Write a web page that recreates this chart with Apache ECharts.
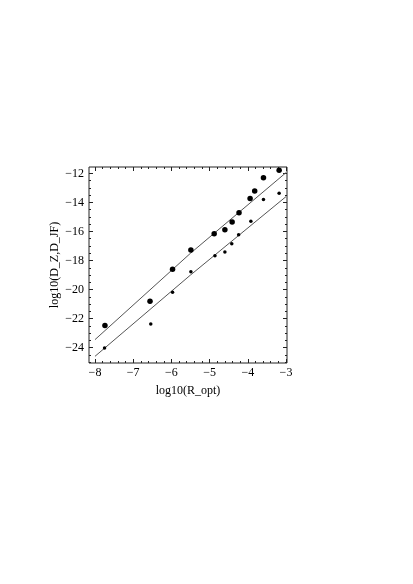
<!DOCTYPE html>
<html>
<head>
<meta charset="utf-8">
<script src="https://cdn.jsdelivr.net/npm/echarts@6/dist/echarts.min.js"></script>
<style>
html,body{margin:0;padding:0;background:#fff;}
#chart{width:413px;height:584px;}
</style>
</head>
<body>
<div id="chart"></div>
<script>
// Data
const bigX = [-7.74, -6.56, -5.97, -5.49, -4.88, -4.60, -4.41, -4.23, -3.94, -3.82, -3.59, -3.18];
const bigY = [-22.47, -20.81, -18.60, -17.27, -16.16, -15.89, -15.34, -14.71, -13.73, -13.22, -12.30, -11.79];
const smallX = [-7.75, -6.54, -5.97, -5.49, -4.86, -4.60, -4.42, -4.24, -3.92, -3.59, -3.18];
const smallY = [-24.02, -22.37, -20.18, -18.77, -17.67, -17.41, -16.84, -16.22, -15.30, -13.80, -13.36];
const upperFitX = [-8, -5.5, -3];
const upperFitY = [-23.45, -17.5, -11.95];
const lowerFitX = [-8, -5.5, -3];
const lowerFitY = [-24.6, -19.0, -13.6];
const xTickLabels = [-8, -7, -6, -5, -4, -3];
const yTickLabels = [-24, -22, -20, -18, -16, -14, -12];

const xMin = -8.157, xMax = -2.974;
const yMin = -25.06, yMax = -11.56;

const xMinor = [];
for (let i = -41; i <= -15; i++) { const v = i / 5; if (Math.abs(v - Math.round(v)) > 1e-9) xMinor.push(+v.toFixed(2)); }
const yMinor = [];
for (let i = -50; i <= -23; i++) { const v = i / 2; if (Math.abs(v / 2 - Math.round(v / 2)) > 1e-9) yMinor.push(v); }

const pair = (xs, ys) => xs.map((x, i) => [x, ys[i]]);
const fmt = v => (v < 0 ? '\u2212' + Math.abs(v) : String(v));
const font = 'Liberation Serif';
const lineCol = '#222';

function xAx(pos, ticks, len, opts) {
  return Object.assign({
    type: 'value', position: pos, min: xMin, max: xMax, gridIndex: 0,
    axisLine: { show: false },
    axisTick: { show: true, inside: true, length: len, customValues: ticks, lineStyle: { color: lineCol, width: 1 } },
    axisLabel: { show: false },
    splitLine: { show: false }
  }, opts || {});
}
function yAx(pos, ticks, len, opts) {
  return Object.assign({
    type: 'value', position: pos, min: yMin, max: yMax, gridIndex: 0,
    axisLine: { show: false },
    axisTick: { show: true, inside: true, length: len, customValues: ticks, lineStyle: { color: lineCol, width: 1 } },
    axisLabel: { show: false },
    splitLine: { show: false }
  }, opts || {});
}

const chart = echarts.init(document.getElementById('chart'), null, { renderer: 'canvas' });
chart.setOption({
  animation: false,
  backgroundColor: '#fff',
  grid: { left: 89, top: 167, width: 198, height: 196, containLabel: false, show: true, borderColor: lineCol, borderWidth: 1, backgroundColor: 'transparent' },
  xAxis: [
    xAx('bottom', xTickLabels, 4, {
      axisLabel: { show: true, customValues: xTickLabels, formatter: fmt, fontFamily: font, fontSize: 12, color: '#000', margin: 4 },
      name: 'log10(R_opt)', nameLocation: 'middle', nameGap: 22,
      nameTextStyle: { fontFamily: font, fontSize: 12, color: '#000' }
    }),
    xAx('bottom', xMinor, 2),
    xAx('top', xTickLabels, 4),
    xAx('top', xMinor, 2)
  ],
  yAxis: [
    yAx('left', yTickLabels, 4, {
      axisLabel: { show: true, customValues: yTickLabels, formatter: fmt, fontFamily: font, fontSize: 12, color: '#000', margin: 5 },
      name: 'log10(D_Z,D_JF)', nameLocation: 'middle', nameGap: 24,
      nameTextStyle: { fontFamily: font, fontSize: 12, color: '#000' }
    }),
    yAx('left', yMinor, 2),
    yAx('right', yTickLabels, 4),
    yAx('right', yMinor, 2)
  ],
  series: [
    { type: 'line', data: pair(upperFitX, upperFitY), showSymbol: false, symbol: 'none', lineStyle: { color: '#555', width: 1 }, z: 2 },
    { type: 'line', data: pair(lowerFitX, lowerFitY), showSymbol: false, symbol: 'none', lineStyle: { color: '#555', width: 1 }, z: 2 },
    { type: 'scatter', data: pair(bigX, bigY), symbol: 'circle', symbolSize: 5.5, itemStyle: { color: '#000', opacity: 1 }, z: 3 },
    { type: 'scatter', data: pair(smallX, smallY), symbol: 'circle', symbolSize: 3.5, itemStyle: { color: '#000', opacity: 1 }, z: 3 }
  ]
});
</script>
</body>
</html>
